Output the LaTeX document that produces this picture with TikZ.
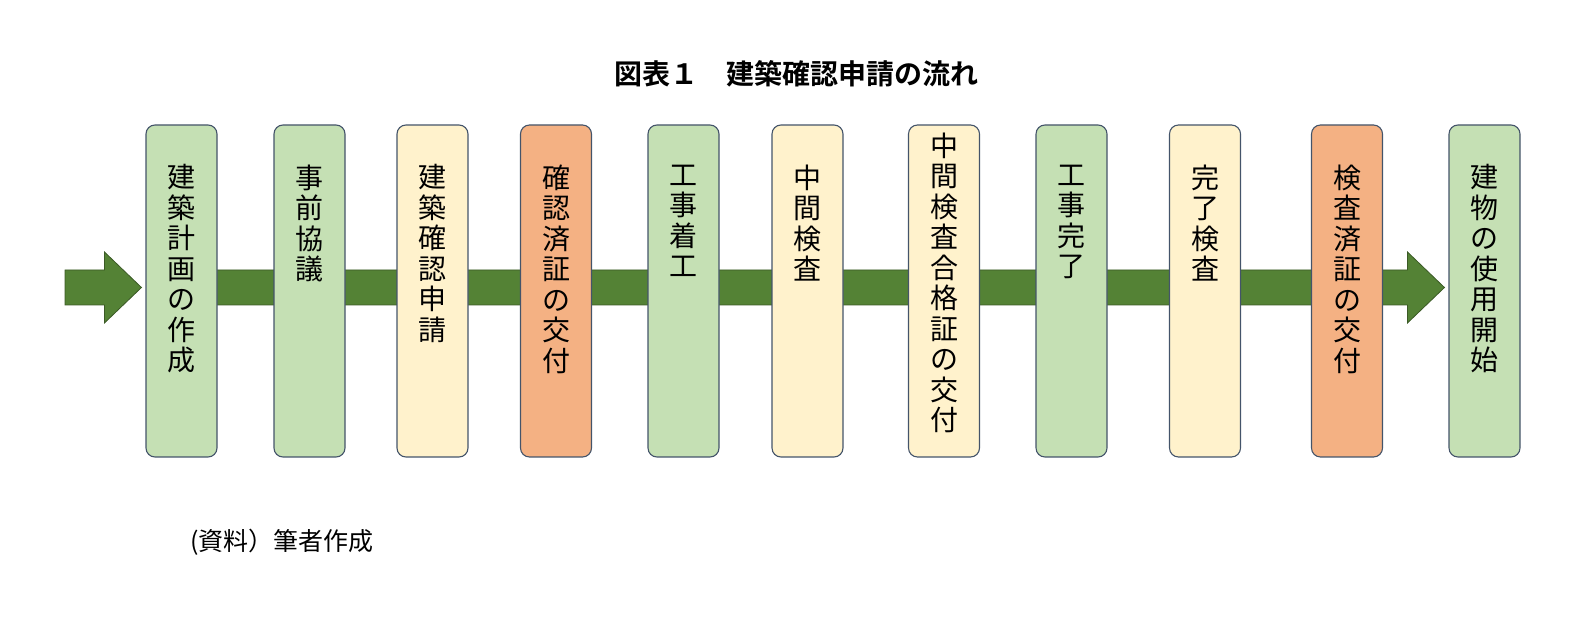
\documentclass[tikz,border=0pt]{standalone}
\usepackage{fontspec}
\setmainfont{Noto Sans CJK JP}[BoldFont={Noto Sans CJK JP Bold}]
\usetikzlibrary{calc,backgrounds}
\definecolor{grn}{HTML}{C5E0B4}
\definecolor{ylw}{HTML}{FFF2CC}
\definecolor{org}{HTML}{F4B183}
\definecolor{edge}{HTML}{44546A}
\definecolor{flowfill}{HTML}{548235}
\definecolor{flowline}{HTML}{3B5A26}

\begin{document}
\begin{tikzpicture}[x=1pt,y=1pt,
  stage/.style={draw=edge,line width=1.1pt,rounded corners=9pt,
    minimum width=71pt,minimum height=332pt,inner sep=0pt},
  vlabel/.style={anchor=north,align=center,inner sep=0pt,
    font=\fontsize{28}{30.5}\selectfont},
  flow/.style={fill=flowfill,draw=flowline,line width=0.8pt}]
  \useasboundingbox (0,0) rectangle (1590,618);

  \node[font=\bfseries\fontsize{28}{32}\selectfont] (title) at (796,544) {図表１　建築確認申請の流れ};

  \foreach \n/\x/\c/\d/\t in {
      1/181.5/grn/40/{建\\築\\計\\画\\の\\作\\成},
      2/309.5/grn/40/{事\\前\\協\\議},
      3/432.5/ylw/40/{建\\築\\確\\認\\申\\請},
      4/556/org/40/{確\\認\\済\\証\\の\\交\\付},
      5/683.5/grn/40/{工\\事\\着\\工},
      6/807.5/ylw/40/{中\\間\\検\\査},
      7/944/ylw/8/{中\\間\\検\\査\\合\\格\\証\\の\\交\\付},
      8/1071.5/grn/40/{工\\事\\完\\了},
      9/1205/ylw/40/{完\\了\\検\\査},
      10/1347/org/40/{検\\査\\済\\証\\の\\交\\付},
      11/1484.5/grn/40/{建\\物\\の\\使\\用\\開\\始}} {
    \node[stage,fill=\c] (b\n) at (\x,327) {};
    \node[vlabel] (t\n) at ($(b\n.north)+(0,-\d)$) {\t};
  }

  \coordinate (start) at (65,330.5);
  \begin{scope}[on background layer]
    \draw[flow] let \p1=(start), \p2=(b1.west) in
      (\x1,\y1+17.5) -- (\x2-41,\y1+17.5) -- (\x2-41,\y1+35.5) -- (\x2-4,\y1)
      -- (\x2-41,\y1-35.5) -- (\x2-41,\y1-17.5) -- (\x1,\y1-17.5) -- cycle;
    \draw[flow] let \p1=(start), \p2=(b1.center), \p3=(b11.west) in
      (\x2,\y1+17.5) -- (\x3-41,\y1+17.5) -- (\x3-41,\y1+35.5) -- (\x3-4,\y1)
      -- (\x3-41,\y1-35.5) -- (\x3-41,\y1-17.5) -- (\x2,\y1-17.5) -- cycle;
  \end{scope}

  \node[anchor=west,inner sep=0pt,font=\fontsize{25}{30}\selectfont] (note) at (190,76) {(資料）筆者作成};
\end{tikzpicture}
\end{document}
